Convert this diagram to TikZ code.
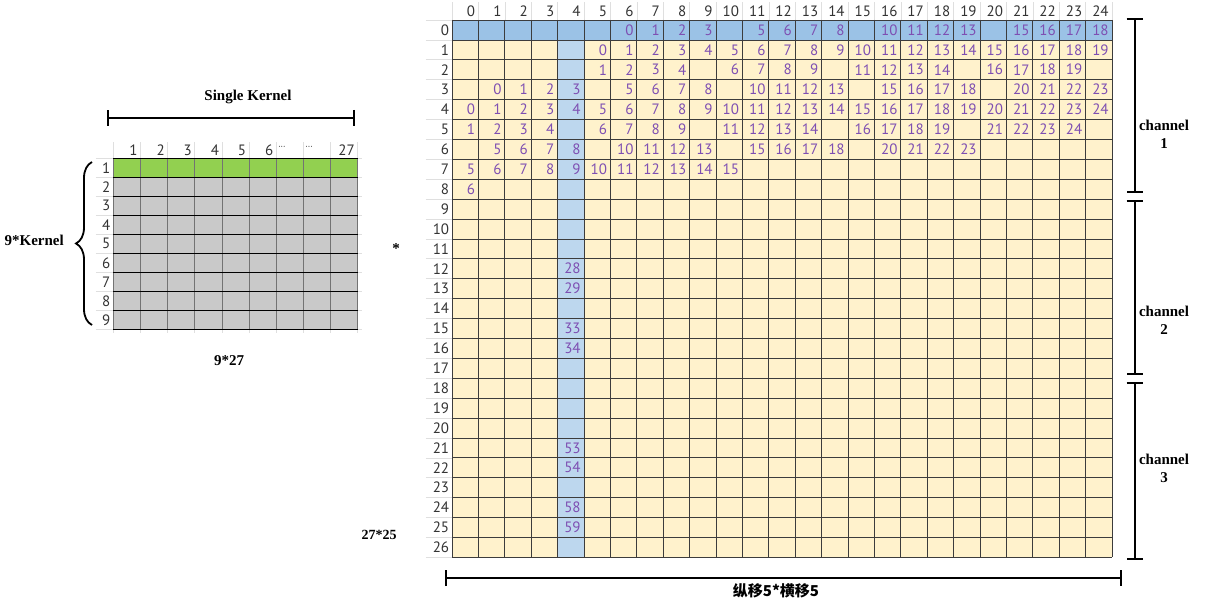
\documentclass[tikz,border=0pt]{standalone}
\usepackage{fontspec}
\setmainfont{Liberation Serif}
\newfontfamily\numfont{PT Sans}
\newfontfamily\cjkfont{Noto Sans CJK SC}
\usepackage{tikz}
\usetikzlibrary{arrows.meta,decorations.pathreplacing}
\definecolor{cellfill}{HTML}{FFF2CC}
\definecolor{rowband}{HTML}{9BC2E6}
\definecolor{colband}{HTML}{BDD7EE}
\definecolor{kernrow}{HTML}{92D050}
\definecolor{kernfill}{HTML}{C9C9C9}
\definecolor{idx}{HTML}{7E4FB2}
\definecolor{rule}{HTML}{3C3C3C}

\begin{document}
\begin{tikzpicture}[x=1pt,y=-1pt,
  cnum/.style={font=\numfont\fontsize{15}{15}\selectfont,text=idx,anchor=east,inner sep=0pt},
  hnum/.style={font=\numfont\fontsize{15}{15}\selectfont,text=black!80,anchor=east,inner sep=0pt},
  lbl/.style={font=\fontsize{15}{18}\selectfont\bfseries,align=center,inner sep=0pt},
  span/.style={line width=2pt,{Bar[width=16pt]}-{Bar[width=16pt]}},
  faint/.style={gray!25,line width=0.6pt},
  gline/.style={rule,line width=0.7pt}]
  \useasboundingbox (0,0) rectangle (1205,609);

  \begin{scope}[shift={(113.3,158.3)},x=27.15pt,y=-19pt]
    \fill[kernfill] (0,0) rectangle (9,9);
    \fill[kernrow] (0,0) rectangle (9,1);
    \foreach \c in {0,...,9} \draw[faint] (\c,-0.85) -- (\c,9.2);
    \foreach \r in {0,...,9} \draw[faint] (-0.65,\r) -- (9.15,\r);
    \foreach \c in {0,...,9} \draw[black!55,line width=0.8pt] (\c,0) -- (\c,9);
    \foreach \r in {0,...,9} \draw[black,line width=0.7pt] (0,\r) -- (9,\r);
    \foreach \c in {1,...,6} \node[hnum] (kc\c) at (\c-0.1,-0.42) {\c};
    \node[hnum,anchor=west,font=\numfont\fontsize{9}{9}\selectfont] (kc7) at (6.07,-0.55) {···};
    \node[hnum,anchor=west,font=\numfont\fontsize{9}{9}\selectfont] (kc8) at (7.07,-0.55) {···};
    \node[hnum] (kc9) at (8.9,-0.42) {27};
    \foreach \r in {1,...,9} \node[hnum] (kr\r) at (-0.1,\r-0.5) {\r};
  \end{scope}

  \begin{scope}[shift={(452,20)},x=26.4pt,y=-19.9pt]
    \fill[cellfill] (0,0) rectangle (25,27);
    \fill[rowband] (0,0) rectangle (25,1);
    \fill[colband] (4,1) rectangle (5,27);
    \foreach \c in {0,...,25} \draw[faint] (\c,-0.9) -- (\c,0);
    \foreach \r in {0,...,27} \draw[faint] (-1,\r) -- (0,\r);
    \foreach \c in {0,...,25} \draw[gline] (\c,0) -- (\c,27);
    \foreach \r in {0,...,27} \draw[gline] (0,\r) -- (25,\r);
    \foreach \c in {0,...,24} \node[hnum] (col\c) at (\c+0.88,-0.45) {\c};
    \foreach \r in {0,...,26} \node[hnum] (row\r) at (-0.1,\r+0.5) {\r};
    \foreach \r/\dv/\ca/\cb/\sk in {0/-6/6/24/0, 1/-5/5/24/9, 2/-4/5/23/4, 3/-1/1/24/0,
        4/0/0/24/9, 5/1/0/23/4, 6/4/1/19/0, 7/5/0/10/9, 8/6/0/0/9}
      \foreach \c in {\ca,...,\cb}{
        \pgfmathtruncatemacro\m{mod(\c,5)}
        \pgfmathtruncatemacro\val{\c+\dv}
        \ifnum\m=\sk\else\node[cnum] (n\r-\c) at (\c+0.88,\r+0.5) {\val};\fi}
    \foreach \r/\val in {12/28,13/29,15/33,16/34,21/53,22/54,24/58,25/59}
      \node[cnum] (n\r-4) at (4.88,\r+0.5) {\val};
  \end{scope}

  \coordinate (skl) at (107.3,118);
  \coordinate (skr) at (355,118);
  \draw[span] (skl) -- (skr);
  \node[lbl] (sk) at (248,97) {Single Kernel};
  \coordinate (kb) at (92,325);
  \coordinate (kt) at (92,162);
  \draw[line width=1.8pt,decorate,decoration={brace,amplitude=16pt}] (kb) -- (kt);
  \node[lbl,anchor=east] (nk) at (64,240) {9*Kernel};
  \node[lbl] (ksize) at (229,361) {9*27};
  \node[lbl] (times) at (396,249) {*};
  \node[lbl,font=\fontsize{14}{16}\selectfont\bfseries] (isize) at (379,535) {27*25};

  \coordinate (bl) at (445,578);
  \coordinate (br) at (1122,578);
  \draw[span] (bl) -- (br);
  \node[lbl,font=\cjkfont\bfseries\fontsize{15}{18}\selectfont] (shift) at (776,591) {纵移5*横移5};

  \coordinate (c1a) at (1134.5,18);  \coordinate (c1b) at (1134.5,193);
  \coordinate (c2a) at (1134.5,200); \coordinate (c2b) at (1134.5,375);
  \coordinate (c3a) at (1134.5,382); \coordinate (c3b) at (1134.5,560);
  \draw[span] (c1a) -- (c1b);
  \draw[span] (c2a) -- (c2b);
  \draw[span] (c3a) -- (c3b);
  \node[lbl] (ch1) at (1164,134) {channel\\1};
  \node[lbl] (ch2) at (1164,320) {channel\\2};
  \node[lbl] (ch3) at (1164,468) {channel\\3};
\end{tikzpicture}
\end{document}
